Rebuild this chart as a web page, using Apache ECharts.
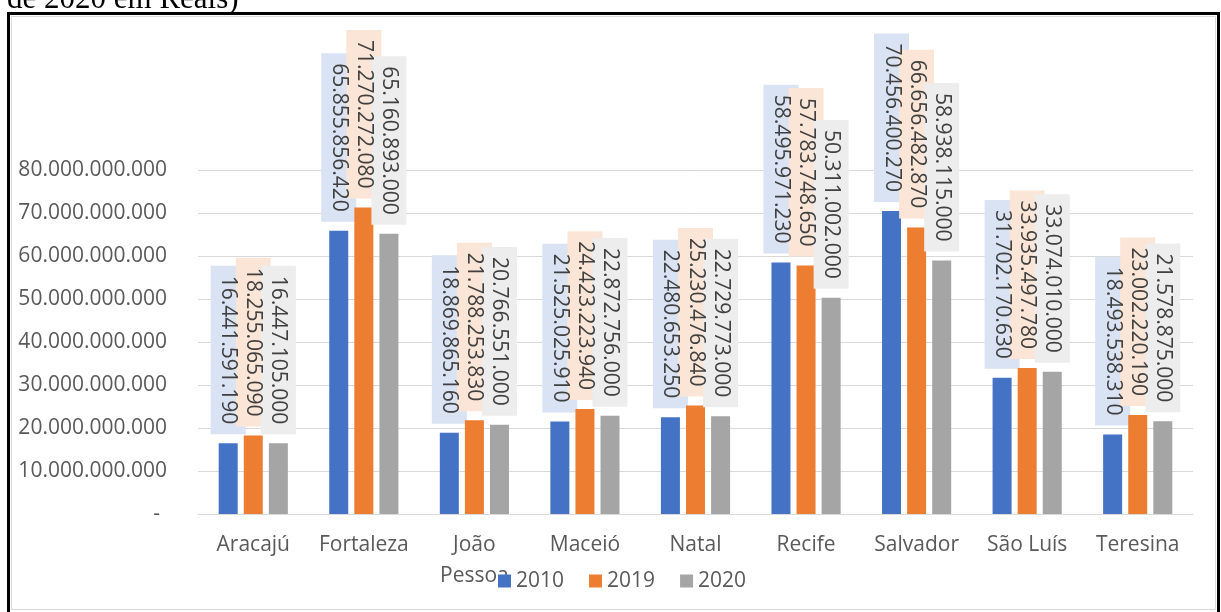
<!DOCTYPE html>
<html>
<head>
<meta charset="utf-8">
<script src="https://cdn.jsdelivr.net/npm/echarts@6/dist/echarts.min.js"></script>
<style>
  html, body { margin: 0; padding: 0; background: #ffffff; }
  #chart { width: 1221px; height: 612px; }
</style>
</head>
<body>
<div id="chart"></div>
<script>
const categories = ['Aracajú', 'Fortaleza', 'João\nPessoa', 'Maceió', 'Natal', 'Recife', 'Salvador', 'São Luís', 'Teresina'];
const seriesNames = ['2010', '2019', '2020'];
const values2010 = [16441591190, 65855856420, 18869865160, 21525025910, 22480653250, 58495971230, 70456400270, 31702170630, 18493538310];
const values2019 = [18255065090, 71270272080, 21788253830, 24423223940, 25230476840, 57783748650, 66656482870, 33935497780, 23002220190];
const values2020 = [16447105000, 65160893000, 20766551000, 22872756000, 22729773000, 50311002000, 58938115000, 33074010000, 21578875000];
const titleText = 'de 2020 em Reais)';

const FONT = '"Open Sans", "Noto Sans", sans-serif';
function fmt(n) {
  return String(Math.round(n)).replace(/\B(?=(\d{3})+(?!\d))/g, '.');
}

const barColors = ['#4472C4', '#ED7D31', '#A5A5A5'];
const labelBg = ['#DAE3F3', '#FBE5D6', '#EDEDED'];
const allValues = [values2010, values2019, values2020];

const chart = echarts.init(document.getElementById('chart'), null, { renderer: 'canvas' });

function labelCfg(textColor, bg) {
  return {
    show: true,
    position: 'top',
    distance: 9,
    rotate: -90,
    align: 'right',
    verticalAlign: 'middle',
    fontSize: 21,
    fontFamily: FONT,
    color: textColor,
    lineHeight: 25,
    padding: [7, 10, 3, 10],
    backgroundColor: bg,
    formatter: p => fmt(p.value)
  };
}

// visible bars + label boxes (text transparent)
const barSeries = allValues.map((vals, i) => ({
  name: seriesNames[i],
  type: 'bar',
  xAxisIndex: 0,
  data: vals,
  barWidth: 19,
  barGap: '32%',
  itemStyle: { color: barColors[i] },
  label: labelCfg('rgba(0,0,0,0)', labelBg[i]),
  z: 2 + i
}));

// overlay: same bars (invisible) carrying the label text above all boxes
const textSeries = allValues.map((vals, i) => ({
  name: seriesNames[i] + ' ',
  type: 'bar',
  xAxisIndex: 1,
  data: vals,
  barWidth: 19,
  barGap: '32%',
  silent: true,
  itemStyle: { color: 'rgba(0,0,0,0)' },
  label: labelCfg('#404040', 'rgba(0,0,0,0)'),
  z: 10
}));

chart.setOption({
  backgroundColor: '#ffffff',
  animation: false,
  grid: { left: 198, right: 28, top: 170, bottom: 98, containLabel: false },
  legend: {
    data: seriesNames,
    left: 498,
    top: 569,
    padding: 0,
    icon: 'rect',
    itemWidth: 13,
    itemHeight: 13,
    itemGap: 25,
    textStyle: { fontSize: 21, fontFamily: FONT, color: '#595959', lineHeight: 24 }
  },
  xAxis: [
    {
      type: 'category',
      data: categories,
      axisLine: { lineStyle: { color: '#D9D9D9', width: 1 } },
      axisTick: { show: false },
      axisLabel: {
        fontSize: 21, fontFamily: FONT, color: '#595959',
        margin: 16, lineHeight: 31, interval: 0
      }
    },
    {
      type: 'category',
      data: categories,
      show: false,
      position: 'bottom'
    }
  ],
  yAxis: {
    type: 'value',
    min: 0,
    max: 80000000000,
    interval: 10000000000,
    axisLine: { show: false },
    axisTick: { show: false },
    splitLine: { lineStyle: { color: '#D9D9D9', width: 1 } },
    axisLabel: {
      fontSize: 21, fontFamily: FONT, color: '#595959', margin: 31,
      formatter: v => v === 0 ? '{z|-}' : fmt(v),
      rich: { z: { fontSize: 21, fontFamily: FONT, color: '#595959', padding: [0, 7, 0, 0] } }
    }
  },
  graphic: [
    {
      type: 'text', x: 7, y: 0, z: 100,
      style: { text: titleText, font: '31px "Liberation Serif", "Times New Roman", serif', fill: '#000000', verticalAlign: 'middle', align: 'left' }
    },
    {
      type: 'rect', z: 100, silent: true,
      shape: { x: 11.5, y: 16.5, width: 1204, height: 593 },
      style: { fill: 'none', stroke: '#D9D9D9', lineWidth: 1 }
    },
    {
      type: 'rect', z: 101, silent: true,
      shape: { x: 8.5, y: 13.5, width: 1210, height: 620 },
      style: { fill: 'none', stroke: '#000000', lineWidth: 3 }
    }
  ],
  series: barSeries.concat(textSeries)
});
</script>
</body>
</html>
